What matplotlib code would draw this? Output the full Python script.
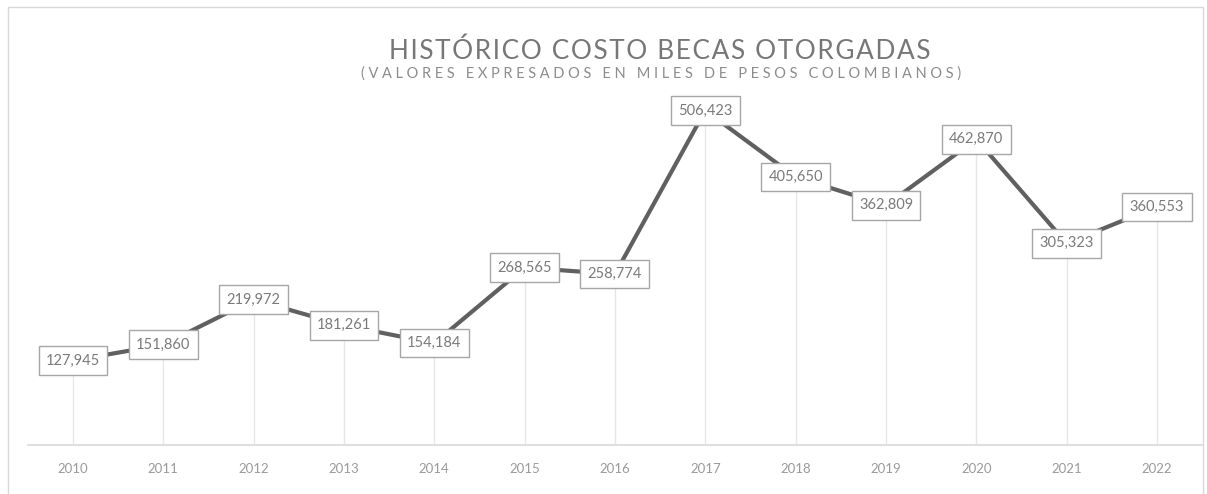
import numpy as np
from matplotlib import pyplot as plt
from matplotlib.patches import Rectangle

years = ["2010", "2011", "2012", "2013", "2014", "2015", "2016",
         "2017", "2018", "2019", "2020", "2021", "2022"]
costs = [127945, 151860, 219972, 181261, 154184, 268565, 258774,
         506423, 405650, 362809, 462870, 305323, 360553]

title = "HISTÓRICO COSTO BECAS OTORGADAS"
subtitle = "(VALORES EXPRESADOS EN MILES DE PESOS COLOMBIANOS)"

plt.rcParams['font.family'] = ['Lato', 'DejaVu Sans']


def spaced(s, gap):
    # fake the letter spacing of the original chart
    return gap.join(s)


def main():
    fig = plt.figure(figsize=(12.07, 4.94), dpi=100)
    ax = fig.add_axes([0.023, 0.099, 0.973, 0.709])

    x = np.arange(len(years))
    # drop lines from each point down to the axis
    ax.vlines(x, 0, costs, color='#e6e6e6', lw=1, zorder=1)
    ax.plot(x, costs, color='#606060', lw=3, zorder=2)

    for xi, v in zip(x, costs):
        ax.annotate(f"{v:,}", (xi, v), ha='center', va='center', fontsize=10.5,
                    color='#7a7a7a', zorder=3,
                    bbox=dict(boxstyle='square,pad=0.5', fc='white', ec='#a6a6a6', lw=1))

    ax.set_xlim(-0.5, len(years) - 0.5)
    ax.set_ylim(0, 530000)
    ax.set_xticks(x)
    ax.set_xticklabels(years, color='#9a9a9a', fontsize=9.5)
    ax.tick_params(axis='x', length=0, pad=13)
    ax.set_yticks([])
    for side in ['top', 'left', 'right']:
        ax.spines[side].set_visible(False)
    ax.spines['bottom'].set_color('#d9d9d9')
    ax.spines['bottom'].set_linewidth(1.2)

    fig.text(0.547, 0.897, spaced(title, '\u200a'), ha='center', va='center',
             fontsize=18.8, color='#777777')
    fig.text(0.548, 0.851, spaced(subtitle, '\u2005'), ha='center', va='center',
             fontsize=10.5, color='#8c8c8c')

    fig.patches.append(Rectangle((0.007, -0.01), 0.99, 0.995, transform=fig.transFigure,
                                 fill=False, ec='#d9d9d9', lw=1))

    fig.savefig("out.png", dpi=100)


if __name__ == "__main__":
    main()
